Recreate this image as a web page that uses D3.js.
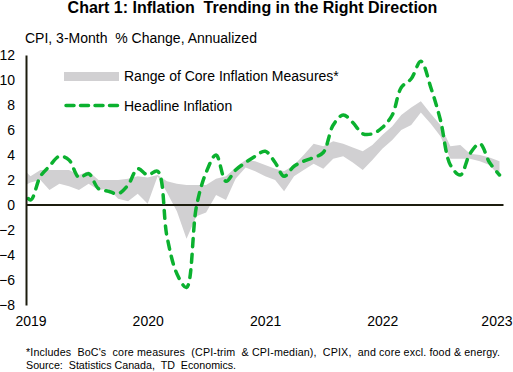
<!DOCTYPE html>
<meta charset="utf-8">
<html>
<head>
  <script src="https://d3js.org/d3.v7.min.js"></script>
  <style>
    body {
      margin: 0;
      background-color: #ffffff;
      font-family: "Liberation Sans", Arial, sans-serif;
    }
    svg text {
      font-family: "Liberation Sans", Arial, sans-serif;
      fill: #000;
    }
  </style>
</head>
<body>
  <svg width="513" height="372"></svg>

  <script>
    // monthly, Dec 2018 .. Jan 2023 (Dec 2018 sits left of the axis and is clipped)
    const months = d3.timeMonths(new Date(2018, 11, 1), new Date(2023, 1, 1));

    const headline = [1.6, 0.4, 2.3, 3.1, 3.9, 3.6, 2.2, 2.5, 1.3, 1.1, 0.9, 1.6, 2.9,
                      2.4, 2.7, -2.5, -5.5, -6.6, -0.1, 2.6, 4.0, 1.9, 2.8, 3.4, 3.9,
                      4.3, 3.4, 2.3, 3.1, 3.5, 3.8, 4.2, 6.4, 7.2, 6.6, 5.7, 5.7,
                      6.2, 7.2, 9.4, 10.1, 11.5, 9.4, 6.8, 3.2, 2.4, 4.1, 4.9, 3.4, 2.4];

    const coreHigh = [3.1, 2.3, 2.8, 2.8, 2.8, 2.8, 2.4, 2.7, 2.0, 2.0, 2.0, 2.1, 2.3,
                      2.2, 2.4, 1.9, 1.7, 1.6, 1.6, 1.6, 2.1, 2.3, 3.0, 3.6, 3.5,
                      3.2, 2.9, 2.7, 3.2, 4.0, 4.9, 4.7, 5.1, 4.9, 4.6, 4.3, 4.8,
                      5.6, 6.3, 7.2, 7.8, 8.3, 7.3, 6.4, 4.7, 4.8, 4.1, 4.0, 3.8, 3.5];

    const coreLow = [1.4, 1.8, 2.0, 1.2, 1.7, 1.5, 1.2, 1.7, 1.2, 1.3, 0.5, 0.3, 0.9,
                     0.1, 2.3, 1.0, -0.5, -2.7, -0.9, -0.6, 0.8, 0.4, 2.1, 3.0, 2.7,
                     2.3, 2.0, 1.1, 2.3, 2.8, 3.3, 2.9, 3.7, 3.9, 3.4, 2.8, 3.6,
                     4.5, 5.2, 6.0, 6.4, 7.4, 6.5, 5.5, 3.7, 3.7, 3.7, 3.5, 3.2, 2.3];

    const yTicks = [-8, -6, -4, -2, 0, 2, 4, 6, 8, 10, 12];
    const yearTicks = [2019, 2020, 2021, 2022, 2023];

    const data = months.map((m, i) => ({
      date: m, head: headline[i], lo: coreLow[i], hi: coreHigh[i]
    }));

    const green = "#0bb12f",
          band = "#d1d0d2",
          axisColor = "#1c1c0e";

    const svg = d3.select("svg");

    const x = d3.scaleTime()
        .domain([new Date(2019, 0, 1), new Date(2023, 0, 1)])
        .range([30.5, 499.5]);

    const y = d3.scaleLinear()
        .domain([-8, 12])
        .range([305, 55]);

    const plotLeft = 26;

    svg.append("defs").append("clipPath")
        .attr("id", "plot")
      .append("rect")
        .attr("x", plotLeft)
        .attr("y", 0)
        .attr("width", 513 - plotLeft)
        .attr("height", 372);

    // title
    svg.append("text")
        .attr("x", 252.5)
        .attr("y", 13)
        .attr("text-anchor", "middle")
        .style("font-size", "16px")
        .style("font-weight", "bold")
        .style("white-space", "pre")
        .text("Chart 1: Inflation  Trending in the Right Direction");

    svg.append("text")
        .attr("x", 25)
        .attr("y", 43)
        .style("font-size", "14px")
        .style("white-space", "pre")
        .text("CPI, 3-Month  % Change, Annualized");

    // core range band
    const area = d3.area()
        .x(d => x(d.date))
        .y0(d => y(d.lo))
        .y1(d => y(d.hi));

    svg.append("path")
        .datum(data)
        .attr("clip-path", "url(#plot)")
        .attr("fill", band)
        .attr("d", area);

    // zero line
    svg.append("line")
        .attr("x1", plotLeft)
        .attr("x2", x(new Date(2023, 0, 1)) + 4)
        .attr("y1", y(0))
        .attr("y2", y(0))
        .attr("stroke", axisColor)
        .attr("stroke-width", 2);

    // headline line
    const line = d3.line()
        .curve(d3.curveCatmullRom)
        .x(d => x(d.date))
        .y(d => y(d.head));

    svg.append("path")
        .datum(data)
        .attr("clip-path", "url(#plot)")
        .attr("fill", "none")
        .attr("stroke", green)
        .attr("stroke-width", 3.5)
        .attr("stroke-linecap", "round")
        .attr("stroke-dasharray", "8,7.5")
        .attr("d", line);

    // y axis
    const yAxis = svg.append("g")
        .attr("transform", `translate(${plotLeft},0)`)
        .call(d3.axisLeft(y).tickValues(yTicks).tickSize(0).tickSizeOuter(0).tickPadding(11));
    yAxis.select(".domain")
        .attr("stroke", axisColor)
        .attr("stroke-width", 2);
    yAxis.selectAll("text")
        .style("font-size", "14px")
        .attr("font-family", null);

    // x axis labels
    const xAxis = svg.append("g")
        .attr("transform", `translate(0,305)`)
        .call(d3.axisBottom(x)
          .tickValues(yearTicks.map(yr => new Date(yr, 0, 1)))
          .tickFormat(d3.timeFormat("%Y"))
          .tickSize(0)
          .tickPadding(11));
    xAxis.select(".domain").remove();
    xAxis.selectAll("text")
        .style("font-size", "14px")
        .attr("font-family", null);
    // keep the last year inside the picture
    xAxis.selectAll("text")
        .filter(d => d.getFullYear() === 2023)
        .attr("text-anchor", "end")
        .attr("dx", "12.5");

    // legend
    const legend = svg.append("g");
    legend.append("rect")
        .attr("x", 64)
        .attr("y", 72)
        .attr("width", 55)
        .attr("height", 9)
        .attr("fill", band);
    legend.append("text")
        .attr("x", 124)
        .attr("y", 81)
        .style("font-size", "14px")
        .text("Range of Core Inflation Measures*");
    legend.append("line")
        .attr("x1", 66)
        .attr("x2", 119)
        .attr("y1", 105.5)
        .attr("y2", 105.5)
        .attr("stroke", green)
        .attr("stroke-width", 3.5)
        .attr("stroke-linecap", "round")
        .attr("stroke-dasharray", "8,6.5");
    legend.append("text")
        .attr("x", 124)
        .attr("y", 110.5)
        .style("font-size", "14px")
        .text("Headline Inflation");

    // footnote
    svg.append("text")
        .attr("x", 26)
        .attr("y", 356)
        .attr("textLength", 474)
        .attr("lengthAdjust", "spacing")
        .style("font-size", "10.7px")
        .style("white-space", "pre")
        .text("*Includes  BoC's  core measures  (CPI-trim  & CPI-median),  CPIX,  and core excl. food & energy.");
    svg.append("text")
        .attr("x", 26)
        .attr("y", 369)
        .style("font-size", "10.7px")
        .style("white-space", "pre")
        .text("Source:  Statistics Canada,  TD  Economics.");
  </script>
</body>
</html>
